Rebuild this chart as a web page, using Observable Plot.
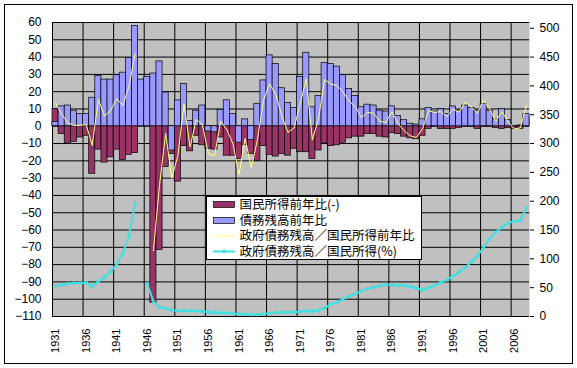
<!DOCTYPE html>
<html><head><meta charset="utf-8">
<script src="https://cdn.jsdelivr.net/npm/d3@7"></script>
<script src="https://cdn.jsdelivr.net/npm/@observablehq/plot@0.6"></script>
<style>
body{margin:0;background:#fff}
#chart{width:577px;height:368px;position:relative}
</style>
</head><body><div id="chart"></div>
<script>
const years = d3.range(1931, 2009);
// 債務残高前年比 (%)
const debtGrowth = [2.5,11.5,12,9,7,7,16.5,29,27,27,29.5,31,39.5,58,27,28.5,30.5,37.5,19.5,-14,
  15,24.5,3,9,12,-3,-3.5,9.5,15,7,-9.5,4,-8,13,26.5,41,36,22,13.5,10.5,
  28.5,42.5,11,17.5,36.5,36,34.5,29.5,21.5,17.5,11,12.5,12,9,8.5,11.5,6,3.5,1.5,1,
  4,10.5,8.5,10,7,11.5,9,12,10.5,9,13,9,4,10,3.5,-0.5,0.5,7];
// 国民所得前年比(-) (%)
const incomeGrowthNeg = [10,-4.5,-10,-9,-6.5,-5.5,-27.5,-13.5,-21,-18,-13.5,-19.5,-16.5,-15.5,null,null,-102,-71.5,-23.5,-16,
  -32,-11.5,-14.5,-5.5,-11,-13,-13.5,-6.5,-17,-17,-19,-11,-16,-20,-11.5,-16.5,-17.5,-16,-17,-13,
  -15,-15,-19,-14,-10,-11.5,-11,-9.5,-7,-6,-6,-4.5,-4.5,-6,-6.5,-4,-4.5,-6,-7,-7.5,
  -5.5,-1.5,0.5,-1.5,-1.5,-1.5,-1,2.5,1,-1.5,2.5,1,-1,-1.5,-1,-1.5,-1.5,5];
// 政府債務残高／国民所得前年比 (%)
const ratioGrowth = [13.5,7,2,0.5,0.5,1,-11,15.5,6,9,16,12,23,42,null,null,-72,-34,-4,-30,
  -17,13,-12,4,1,-16,-17,3,-2,-10,-28,-7,-24,-8,15,24.5,18.5,6,-3.5,-1,
  13,27.5,-8,4.5,27,24.5,23.5,20,14.5,11.5,5,8,7.5,3,2,8.5,1.5,-2.5,-5.5,-6.5,
  -1.5,9,8,8.5,5.5,10,8,14,11,7.5,15,10,3,8.5,2.5,-1.5,-1,12];
// 政府債務残高／国民所得 (%) — right axis
const debtRatio = [53,55,57,58,58,59,52,61,68,78,90,110,140,196,null,57,26,16,14,11,
  10,10,10,9.5,9,7.5,7,6.5,6,5,4.5,4,3.5,3.5,4.5,5.5,7,7.5,7.5,7.5,
  8.5,9.5,9,10.5,15,21,25,30,35,39,44,48,51,53,55,55,54,54,52,49,
  46,50,54,59,64,70,77,85,95,105,120,135,146,155,162,165,167,188];

const tickYears = d3.range(1931, 2007, 5);
const leftTicks = d3.range(-110, 61, 10);
const rightTicks = d3.range(0, 501, 50);
const seriesNames = ["国民所得前年比(-)", "債務残高前年比", "政府債務残高／国民所得前年比", "政府債務残高／国民所得(%)"];
const colors = ["#993366", "#9999ff", "#ffff88", "#40e0e0"];

const rows = years.map((year, i) => ({year, debt: debtGrowth[i], inc: incomeGrowthNeg[i], rg: ratioGrowth[i], ratio: debtRatio[i]}));
const toLeft = v => v * 170 / 510 - 110;   // right axis (0–510) onto left axis (-110–60)
const toRight = v => Math.round((v + 110) * 510 / 170);

const chart = Plot.plot({
  width: 577, height: 368,
  marginLeft: 52, marginRight: 48, marginTop: 22, marginBottom: 52,
  x: {type: "linear", domain: [1931, 2009], axis: null, label: null},
  y: {domain: [-110, 60], axis: null, label: null},
  style: {fontFamily: "'Liberation Sans', Arial, sans-serif", fontSize: "12px", background: "white", color: "black", overflow: "visible"},
  marks: [
    Plot.frame({fill: "#c0c0c0", stroke: null}),
    Plot.ruleY(leftTicks, {stroke: "black", strokeWidth: 1}),
    Plot.ruleX(tickYears, {stroke: "black", strokeWidth: 1}),
    Plot.rectY(rows.filter(d => d.inc != null), {x1: "year", x2: d => d.year + 1, y: "inc", fill: colors[0], stroke: "black", strokeWidth: 0.7}),
    Plot.rectY(rows.filter(d => d.debt != null), {x1: "year", x2: d => d.year + 1, y: "debt", fill: colors[1], stroke: "black", strokeWidth: 0.7}),
    Plot.line(rows, {x: d => d.year + 0.5, y: d => d.rg == null ? NaN : d.rg, stroke: colors[2], strokeWidth: 1}),
    Plot.line(rows, {x: d => d.year + 0.5, y: d => d.ratio == null ? NaN : toLeft(d.ratio), stroke: colors[3], strokeWidth: 2}),
    Plot.dot(rows.filter(d => d.ratio != null), {x: d => d.year + 0.5, y: d => toLeft(d.ratio), symbol: "asterisk", r: 2, stroke: colors[3], strokeWidth: 1}),
    Plot.axisY({anchor: "left", ticks: leftTicks, tickSize: 0, tickPadding: 11, fontSize: 12, label: null}),
    Plot.axisY({anchor: "right", ticks: rightTicks.map(toLeft), tickFormat: toRight, tickSize: 4, tickPadding: 6, fontSize: 12, label: null}),
    Plot.text(tickYears, {x: d => d + 0.5, frameAnchor: "bottom", dy: 12, text: d => String(d), rotate: -90, textAnchor: "end", lineAnchor: "middle", fontSize: 11})
  ]
});
document.getElementById("chart").appendChild(chart);

// outer chart border
const svg = d3.select(chart);
svg.append("rect").attr("x", 4.5).attr("y", 4.5).attr("width", 568).attr("height", 359)
  .attr("fill", "none").attr("stroke", "black");

// legend
const lg = svg.append("g").attr("font-family", "'Noto Sans CJK JP', sans-serif").attr("font-size", 12.5)
  .attr("text-anchor", "start");
lg.append("rect").attr("x", 206.5).attr("y", 196.5).attr("width", 215).attr("height", 63)
  .attr("fill", "white").attr("stroke", "black");
const rowY = [204.5, 220.5, 236, 251.5];
seriesNames.forEach((name, i) => {
  const y = rowY[i];
  if (i < 2) {
    lg.append("rect").attr("x", 213.5).attr("y", y - 3).attr("width", 21).attr("height", 6)
      .attr("fill", colors[i]).attr("stroke", "black").attr("stroke-width", 0.7);
  } else {
    lg.append("line").attr("x1", 213).attr("x2", 235).attr("y1", y).attr("y2", y)
      .attr("stroke", colors[i]).attr("stroke-width", i === 3 ? 2 : 1);
    if (i === 3) {
      lg.append("path").attr("d", d3.symbol(d3.symbolAsterisk, 16)()).attr("transform", `translate(224,${y})`)
        .attr("stroke", colors[i]).attr("fill", "none");
    }
  }
  lg.append("text").attr("x", 239.5).attr("y", y).attr("dy", "0.35em").attr("text-anchor", "start")
    .attr("fill", "black").text(name);
});
</script>
</body></html>
